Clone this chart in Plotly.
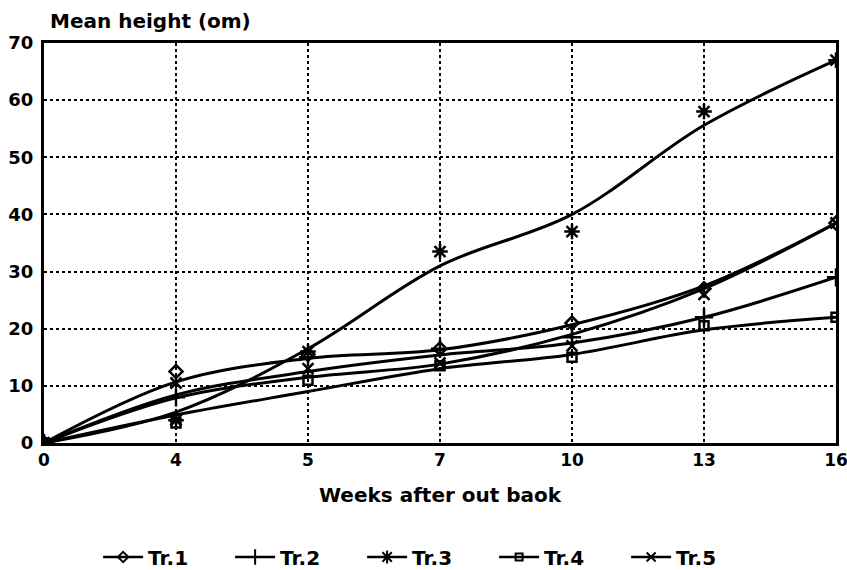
import plotly.graph_objects as go

weeks = ["0", "4", "5", "7", "10", "13", "16"]
series_names = ["Tr.1", "Tr.2", "Tr.3", "Tr.4", "Tr.5"]

# observed means (markers)
tr1_obs = [0, 12.5, 15.5, 16.5, 21, 27, 38.5]
tr2_obs = [0, 8, 15, 16.5, 18.5, 22, 29]
tr3_obs = [0, 4, 16, 33.5, 37, 58, 67]
tr4_obs = [0, 3.5, 11, 13.5, 15, 20.5, 22]
tr5_obs = [0, 10.5, 13, 14, 17, 26, 38.5]

# fitted smooth curves
tr1_fit = [0, 10.7, 14.8, 16.3, 20.7, 27.5, 38.5]
tr2_fit = [0, 8.4, 12.5, 15.4, 17.5, 22, 29]
tr3_fit = [0, 5.4, 16.5, 31, 40, 55.6, 67]
tr4_fit = [0, 4.9, 9, 13, 15.5, 19.8, 22]
tr5_fit = [0, 7.9, 11.5, 13.8, 19, 27, 38.5]

obs = [tr1_obs, tr2_obs, tr3_obs, tr4_obs, tr5_obs]
fits = [tr1_fit, tr2_fit, tr3_fit, tr4_fit, tr5_fit]
symbols = ["diamond-open", "cross-thin-open", "asterisk-open", "square-open", "x-thin-open"]
sizes = [10, 13, 13, 9, 11]

FONT = "DejaVu Sans, Arial, sans-serif"

fig = go.Figure()
for name, o, f, sym, sz in zip(series_names, obs, fits, symbols, sizes):
    fig.add_trace(go.Scatter(x=weeks, y=f, mode="lines", showlegend=False,
                             line=dict(color="black", width=3, shape="spline", smoothing=1.0),
                             hoverinfo="skip"))
    fig.add_trace(go.Scatter(x=weeks, y=o, mode="markers", showlegend=False,
                             marker=dict(symbol=sym, size=sz, color="black",
                                         line=dict(color="black", width=2.5))))
    fig.add_trace(go.Scatter(x=[None], y=[None], mode="lines+markers", name=name,
                             line=dict(color="black", width=2.5),
                             marker=dict(symbol=sym, size=sz - 2, color="black",
                                         line=dict(color="black", width=2))))

fig.update_layout(
    width=847, height=570,
    paper_bgcolor="white", plot_bgcolor="white",
    margin=dict(l=44, r=11, t=43, b=127, autoexpand=False),
    font=dict(family=FONT, size=17, color="black", weight="bold"),
    showlegend=True,
    legend=dict(orientation="h", x=0.485, xanchor="center",
                yref="container", y=1 - 557 / 570, yanchor="middle",
                font=dict(family=FONT, size=20, color="black", weight="bold"),
                itemwidth=40, traceorder="normal",
                entrywidth=77, entrywidthmode="pixels"),
    xaxis=dict(type="category", range=[0, 6], showgrid=True, gridcolor="black",
               griddash="dot", gridwidth=2, showline=True, linecolor="black",
               linewidth=3, mirror=True, ticks="", zeroline=False, automargin=False,
               tickfont=dict(family=FONT, size=17, weight="bold")),
    yaxis=dict(range=[0, 70], dtick=10, showgrid=True, gridcolor="black",
               griddash="dot", gridwidth=2, showline=True, linecolor="black",
               linewidth=3, mirror=True, ticks="", zeroline=False, automargin=False,
               ticklabelstandoff=4,
               tickfont=dict(family=FONT, size=18, weight="bold")),
    annotations=[
        dict(text="Mean height (om)", xref="paper", yref="paper",
             x=0.005, y=1.0, xanchor="left", yanchor="bottom", yshift=8,
             showarrow=False,
             font=dict(family=FONT, size=20, weight="bold", color="black")),
        dict(text="Weeks after out baok", xref="paper", yref="paper",
             x=0.5, y=0.0, xanchor="center", yanchor="middle", yshift=-52,
             showarrow=False,
             font=dict(family=FONT, size=20, weight="bold", color="black")),
    ],
)

fig.write_html("out.html", config={"displayModeBar": False},
               post_script="document.body.style.margin='0';")
